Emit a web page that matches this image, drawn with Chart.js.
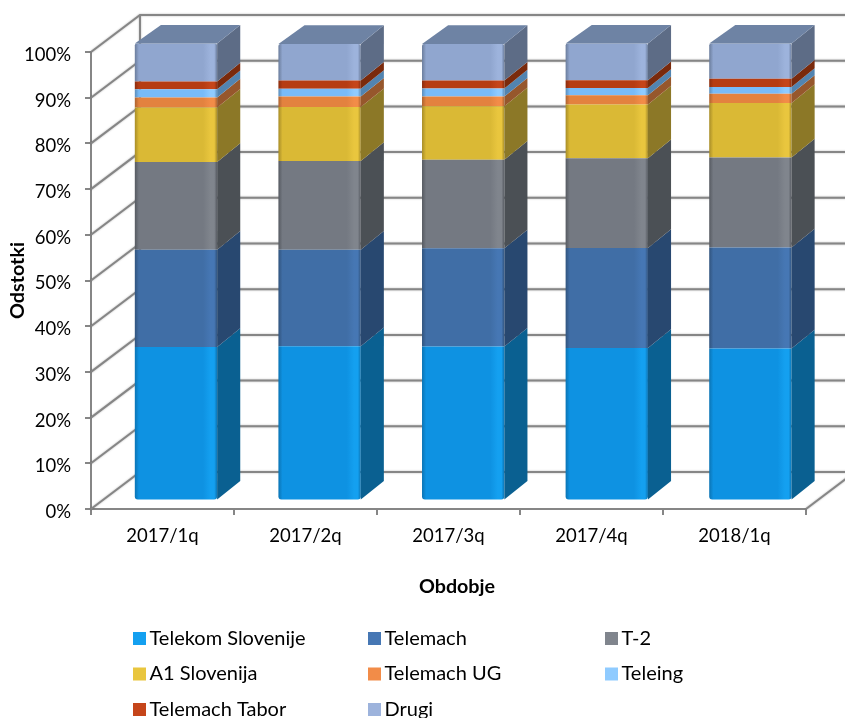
<!DOCTYPE html>
<html><head><meta charset="utf-8">
<style>html,body{margin:0;padding:0;background:#fff}#w{width:845px;height:718px;position:relative}</style>
<script src="https://cdn.jsdelivr.net/npm/chart.js@4"></script>
</head><body><div id="w"><canvas id="c" width="845" height="718"></canvas></div>
<script>
const categories = ['2017/1q','2017/2q','2017/3q','2017/4q','2018/1q'];
const seriesNames = ['Telekom Slovenije','Telemach','T-2','A1 Slovenija','Telemach UG','Teleing','Telemach Tabor','Drugi'];
const telekom  = [33.6,33.8,33.7,33.4,33.3];
const telemach = [21.3,21.1,21.5,21.9,22.1];
const t2       = [19.2,19.4,19.4,19.6,19.7];
const a1       = [11.9,11.8,11.7,11.8,11.9];
const ug       = [2.2,2.3,2.1,2.0,2.0];
const teleing  = [1.8,1.7,1.8,1.6,1.5];
const tabor    = [1.7,1.8,1.7,1.7,1.8];
const drugi    = [8.3,8.0,8.0,8.0,7.7];
const seriesValues = [telekom,telemach,t2,a1,ug,teleing,tabor,drugi];
const frontColors  = ['#0E92E2','#406EA6','#747982','#DAB935','#E3823F','#78BBF8','#B63C12','#90A6CF'];
const brightColors = ['#14A0F0','#4677B4','#80858D','#E9C63E','#F28C48','#8FCBFF','#C5451A','#9DB3DC'];
const sideColors   = ['#0A6091','#284870','#4B5055','#8C7827','#96572C','#5284B0','#7A2A0C','#5D6C86'];
const edgeColors   = ['#0B74B4','#31547E','#565A61','#A88D28','#AE6330','#5C8DBA','#8C2D0E','#6B7D9C'];
const topColor = '#6E83A4';
const axisColor = '#868686';
const textColor = '#000';
const FONT = 'Lato, Carlito, sans-serif';
const wallX = 49, wallY = -37;        // depth of the plot box
const barDX = 12.8, barDY = -8.4, barSX = 1.0042;     // front face of bars inside the box
const sideX = 23, sideY = -18.7;      // depth of bars
const barPct = 0.5734;

function frontFill(context, i){
  const chart = context.chart, x = chart.scales.x;
  if (context.dataIndex === undefined || !chart.chartArea) return frontColors[i];
  const cx = x.getPixelForTick(context.dataIndex), w = x.width/categories.length*barPct;
  const g = chart.ctx.createLinearGradient(cx-w/2,0,cx+w/2,0);
  g.addColorStop(0, edgeColors[i]);
  g.addColorStop(.05, frontColors[i]);
  g.addColorStop(.83, frontColors[i]);
  g.addColorStop(.92, brightColors[i]);
  g.addColorStop(.965, brightColors[i]);
  g.addColorStop(1, edgeColors[i]);
  return g;
}

const box3d = {
  id:'box3d',
  afterLayout(chart){
    const sx = chart.scales.x;
    if(!sx._wrapped){
      const orig = sx.drawTitle;
      sx.drawTitle = function(){ const c=this.ctx; c.save(); c.translate(8.5,0); orig.call(this); c.restore(); };
      sx._wrapped = true;
    }
  },
  beforeDatasetsDraw(chart){
    const {ctx, scales:{x,y}, chartArea:a} = chart;
    ctx.save();
    ctx.strokeStyle = axisColor; ctx.lineWidth = 2;
    ctx.shadowColor = 'rgba(0,0,0,.3)'; ctx.shadowBlur = 2;
    ctx.beginPath();
    y.ticks.forEach(t=>{
      const py = y.getPixelForValue(t.value);
      ctx.moveTo(a.left,py);
      ctx.lineTo(a.left+wallX,py+wallY);
      ctx.lineTo(a.right+wallX,py+wallY);
    });
    const p0 = y.getPixelForValue(0), p1 = y.getPixelForValue(100);
    ctx.moveTo(a.right,p0); ctx.lineTo(a.right+wallX,p0+wallY);
    ctx.moveTo(a.left+wallX,p0+wallY); ctx.lineTo(a.left+wallX,p1+wallY);
    ctx.stroke();
    ctx.restore();
    ctx.save();
    ctx.transform(barSX,0,0,1,barDX,barDY);
  },
  afterDatasetsDraw(chart){
    const ctx = chart.ctx;
    const n = chart.data.datasets.length;
    for(let i=0;i<n;i++){
      chart.getDatasetMeta(i).data.forEach(b=>{
        const r = b.x+b.width/2, l = b.x-b.width/2;
        ctx.fillStyle = sideColors[i];
        ctx.beginPath();
        ctx.moveTo(r,b.base);
        ctx.lineTo(r+sideX,b.base+sideY);
        ctx.lineTo(r+sideX,b.y+sideY);
        ctx.lineTo(r,b.y);
        ctx.closePath();
        ctx.fill();
        if(i===n-1){
          ctx.fillStyle = topColor;
          ctx.beginPath();
          ctx.moveTo(l,b.y);
          ctx.lineTo(l+sideX+3,b.y+sideY);
          ctx.lineTo(r+sideX,b.y+sideY);
          ctx.lineTo(r,b.y);
          ctx.closePath();
          ctx.fill();
        }
      });
    }
    ctx.restore();
  },
  afterDraw(chart){
    const ctx = chart.ctx;
    const colX = [133,368,605], rowY = [632,667.5,703];
    ctx.save();
    ctx.font = '20px '+FONT; ctx.textBaseline='middle'; ctx.textAlign='left';
    chart.data.datasets.forEach((d,i)=>{
      const cx = colX[i%3], cy = rowY[Math.floor(i/3)];
      ctx.fillStyle = brightColors[i];
      ctx.fillRect(cx,cy,13,13);
      ctx.fillStyle = textColor;
      ctx.fillText(d.label,cx+16.5,cy+6.5);
    });
    ctx.restore();
  }
};

new Chart(document.getElementById('c'),{
  type:'bar',
  data:{
    labels:categories,
    datasets:seriesNames.map((name,i)=>({
      label:name,
      data:seriesValues[i],
      backgroundColor:c=>frontFill(c,i),
      borderWidth:0,
      borderSkipped:false,
      borderRadius:i===0?{bottomLeft:3,bottomRight:3,topLeft:0,topRight:0}:(i===7?{topLeft:2,topRight:2,bottomLeft:0,bottomRight:0}:0),
      clip:false,
      categoryPercentage:1,
      barPercentage:barPct
    }))
  },
  options:{
    responsive:false,
    animation:false,
    layout:{padding:{left:0,top:52,right:39,bottom:119}},
    plugins:{legend:{display:false},tooltip:{enabled:false},title:{display:false}},
    scales:{
      x:{
        stacked:true,
        afterFit(s){s.height=90;},
        grid:{drawOnChartArea:false,color:axisColor,tickColor:axisColor,lineWidth:2,tickLength:6},
        border:{color:axisColor,width:2},
        ticks:{color:textColor,font:{family:FONT,size:18.5},padding:10,maxRotation:0},
        title:{display:true,text:'Obdobje',color:textColor,font:{family:FONT,size:19.7,weight:'bold'},padding:{top:0,bottom:1}}
      },
      y:{
        stacked:true,min:0,max:100,
        afterFit(s){s.width=91;},
        grid:{drawOnChartArea:false,color:axisColor,tickColor:axisColor,lineWidth:2,tickLength:6},
        border:{color:axisColor,width:2},
        ticks:{stepSize:10,color:textColor,font:{family:FONT,size:18.5},padding:14,labelOffset:3,callback:v=>v+'%'},
        title:{display:true,text:'Odstotki',color:textColor,font:{family:FONT,size:19.7,weight:'bold'},padding:{top:6,bottom:0}}
      }
    }
  },
  plugins:[box3d]
});
</script></body></html>
